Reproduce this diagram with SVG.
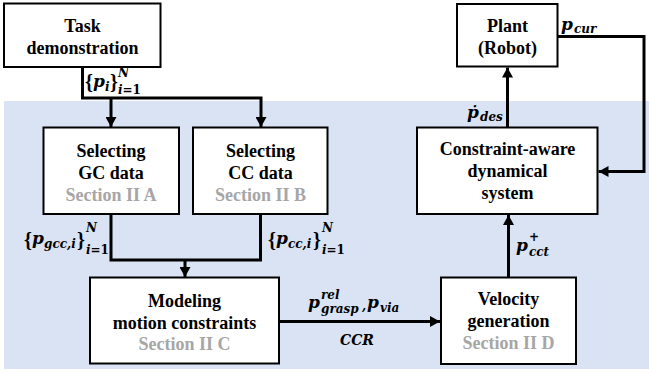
<svg xmlns="http://www.w3.org/2000/svg" width="649" height="375" viewBox="0 0 649 375">
<style>
.box{fill:#fff;stroke:#000;stroke-width:2}
.t{font-family:"Liberation Serif",serif;font-weight:bold;font-size:18px;text-anchor:middle;fill:#000}
.g{fill:#a6a6a6}
.c{fill:none;stroke:#000;stroke-width:3}
.m{font-family:"DejaVu Serif",serif;font-weight:bold;font-style:italic;fill:#000}
.mp{font-size:17px}
.ms{font-size:12px}
.mn{font-style:normal}
.mb{font-family:"Liberation Serif",serif;font-weight:bold;font-style:normal;font-size:20px}
</style>
<defs>
<marker id="ah" markerUnits="userSpaceOnUse" viewBox="0 0 10 11" markerWidth="10" markerHeight="11" refX="10" refY="5.5" orient="auto">
<path d="M0,0 L10,5.5 L0,11 Z" fill="#000"/>
</marker>
</defs>
<rect x="4" y="101" width="645" height="268" fill="#dae3f3"/>

<g id="connectors">
<path class="c" d="M82.5,67 V98 H261 V127"  marker-end="url(#ah)"/>
<path class="c" d="M111,98 V127" marker-end="url(#ah)"/>
<path class="c" d="M111,214 V260 H260.5 V214"/>
<path class="c" d="M185,260 V277" marker-end="url(#ah)"/>
<path class="c" d="M279,321.5 H440" marker-end="url(#ah)"/>
<path class="c" d="M508.5,277.5 V215" marker-end="url(#ah)"/>
<path class="c" d="M507.5,127.5 V67.5" marker-end="url(#ah)"/>
<path class="c" d="M558,36.5 H644 V171.5 H598.5" marker-end="url(#ah)"/>
</g>

<g id="task">
<rect class="box" x="4" y="3.5" width="156.5" height="63.5"/>
<text class="t" x="82.5" y="32">Task</text>
<text class="t" x="82.5" y="54">demonstration</text>
</g>

<g id="gc">
<rect class="box" x="43.5" y="127.5" width="135.5" height="86.5"/>
<text class="t" x="111" y="157">Selecting</text>
<text class="t" x="111" y="179">GC data</text>
<text class="t g" x="111" y="200.5">Section II A</text>
</g>

<g id="cc">
<rect class="box" x="193" y="127.5" width="134.5" height="86.5"/>
<text class="t" x="260.5" y="157">Selecting</text>
<text class="t" x="260.5" y="179">CC data</text>
<text class="t g" x="260.5" y="200.5">Section II B</text>
</g>

<g id="modeling">
<rect class="box" x="90" y="277.5" width="189" height="86"/>
<text class="t" x="184.5" y="307">Modeling</text>
<text class="t" x="184.5" y="328.5">motion constraints</text>
<text class="t g" x="184.5" y="350">Section II C</text>
</g>

<g id="velocity">
<rect class="box" x="441" y="277.5" width="135" height="86.5"/>
<text class="t" x="508.5" y="305">Velocity</text>
<text class="t" x="508.5" y="327">generation</text>
<text class="t g" x="508.5" y="348.5">Section II D</text>
</g>

<g id="constraint">
<rect class="box" x="417" y="127.5" width="180.5" height="86.5"/>
<text class="t" x="507.5" y="155">Constraint-aware</text>
<text class="t" x="507.5" y="177">dynamical</text>
<text class="t" x="507.5" y="199">system</text>
</g>

<g id="plant">
<rect class="box" x="457" y="4" width="100.5" height="62.5"/>
<text class="t" x="507.5" y="32">Plant</text>
<text class="t" x="507.5" y="53.5">(Robot)</text>
</g>

<g id="labels">
<text class="m"><tspan class="mb" x="85" y="89">{</tspan><tspan class="mp" x="93" y="87">p</tspan><tspan class="ms" x="105" y="91">i</tspan><tspan class="mb" x="110" y="89">}</tspan><tspan class="ms" x="118" y="77">N</tspan><tspan class="ms" x="118" y="94">i</tspan><tspan class="ms mn">=1</tspan></text>

<text class="m"><tspan class="mb" x="24" y="247">{</tspan><tspan class="mp" x="32" y="244">p</tspan><tspan class="ms" x="44" y="248">gcc,i</tspan><tspan class="mb" x="77" y="247">}</tspan><tspan class="ms" x="86" y="232">N</tspan><tspan class="ms" x="86" y="254">i</tspan><tspan class="ms mn">=1</tspan></text>

<text class="m"><tspan class="mb" x="268" y="247">{</tspan><tspan class="mp" x="276" y="244">p</tspan><tspan class="ms" x="288" y="248">cc,i</tspan><tspan class="mb" x="313" y="247">}</tspan><tspan class="ms" x="322" y="232">N</tspan><tspan class="ms" x="322" y="254">i</tspan><tspan class="ms mn">=1</tspan></text>

<text class="m"><tspan class="mp" x="308" y="308">p</tspan><tspan class="ms" x="321" y="299">rel</tspan><tspan class="ms" x="321" y="313">grasp</tspan><tspan class="ms" x="362" y="310">,</tspan><tspan class="mp" x="367" y="308">p</tspan><tspan class="ms" x="380" y="312">via</tspan></text>

<text class="m" x="340" y="345" style="font-size:14px">CCR</text>

<text class="m"><tspan class="mp" x="516" y="251">p</tspan><tspan class="ms mn" x="529" y="241">+</tspan><tspan class="ms" x="529" y="256">cct</tspan></text>

<text class="m"><tspan class="mp" x="467" y="118">ṗ</tspan><tspan class="ms" x="480" y="121">des</tspan></text>

<text class="m"><tspan class="mp" x="561" y="30">p</tspan><tspan class="ms" x="574" y="33">cur</tspan></text>
</g>
</svg>
